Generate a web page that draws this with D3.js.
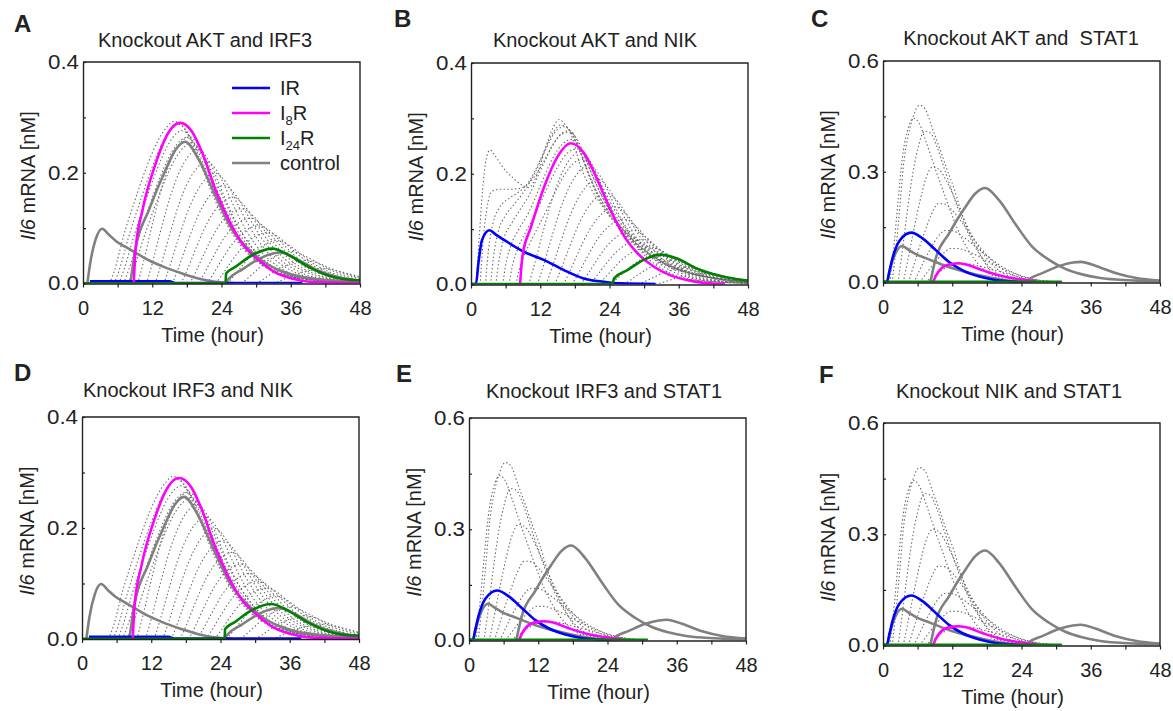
<!DOCTYPE html>
<html>
<head>
<meta charset="utf-8">
<script src="https://cdn.jsdelivr.net/npm/d3@7"></script>
<style>
body { margin: 0; background: #fff; }
svg text { font-family: "Liberation Sans", Arial, sans-serif; fill: #222; }
.tick text { font-size: 20px; }
</style>
</head>
<body>
<script>
'use strict';

// ---- data: [time (hour), Il6 mRNA (nM)] ----

const xTicks = [0, 6, 12, 18, 24, 30, 36, 42, 48];
const xLabels = [0, 12, 24, 36, 48];
const yTicksLow = [0, 0.1, 0.2, 0.3, 0.4];
const yLabelsLow = [0, 0.2, 0.4];
const yTicksHigh = [0, 0.15, 0.3, 0.45, 0.6];
const yLabelsHigh = [0, 0.3, 0.6];

// solid gray control curves
const ctrlIR = [[0.75,0],[1.3,0.04],[2.2,0.08],[3.3,0.099],[4.5,0.088],[5.8,0.076],[7.4,0.066],[9.2,0.055],[11.4,0.042],[14,0.03],[17.2,0.018],[20,0.009],[22.9,0.003],[26,0.001]];
const ctrlI8R = [[8.2,0],[8.6,0.03],[9.1,0.063],[11.4,0.132],[14.3,0.205],[16,0.241],[17.7,0.256],[20.1,0.223],[23,0.157],[25.8,0.098],[28.7,0.062],[31.6,0.037],[34.5,0.022],[37.4,0.013],[40.4,0.008],[44,0.005],[48,0.003]];
const ctrlI24R = [[24.6,0],[25.2,0.008],[27.7,0.026],[30.6,0.045],[32.9,0.054],[34.3,0.056],[36.9,0.045],[40.4,0.025],[43.9,0.012],[48,0.005]];

// panels A and D
const irAD = [[1.2,0.004],[15,0.004],[16,0.001],[38,0.001]];
const i8rAD = [[8.8,0],[9.1,0.06],[10.3,0.132],[12.6,0.217],[14.9,0.274],[16.8,0.29],[18.9,0.274],[20.7,0.235],[23,0.168],[25.3,0.114],[27.6,0.072],[30.5,0.042],[33.3,0.02],[36.2,0.009],[39.6,0.003],[48,0.001]];
const i24rAD = [[0,0.0005],[24.7,0.0005],[24.8,0.018],[26.4,0.03],[29.3,0.051],[32.8,0.063],[35.7,0.051],[39.1,0.03],[42.6,0.014],[47.6,0.006],[48,0.006]];
const dotsAD = [
  [[4.6,0],[5.5,0.025],[7,0.085],[9,0.15],[11,0.21],[13,0.258],[14.5,0.282],[15.7,0.293],[17,0.287],[18.5,0.262],[20,0.225],[22,0.172],[24,0.125],[26,0.088],[28,0.06],[31,0.033],[35,0.015],[40,0.006],[48,0.002]],
  [[5.4,0],[6.3,0.025],[7.8,0.08],[9.8,0.145],[11.8,0.205],[13.8,0.255],[15.3,0.28],[16.3,0.288],[17.6,0.28],[19,0.255],[20.5,0.218],[22.5,0.166],[24.5,0.12],[26.5,0.084],[28.5,0.057],[31.5,0.031],[35.5,0.014],[41,0.005],[48,0.002]],
  [[6.2,0],[7.1,0.025],[8.6,0.078],[10.6,0.142],[12.6,0.2],[14.6,0.248],[16.1,0.27],[17.1,0.276],[18.3,0.268],[19.7,0.244],[21.2,0.208],[23.2,0.158],[25.2,0.114],[27.2,0.08],[29.2,0.054],[32.2,0.029],[36.2,0.013],[42,0.005],[48,0.002]],
  [[7,0],[7.9,0.024],[9.4,0.075],[11.4,0.137],[13.4,0.193],[15.4,0.238],[16.9,0.258],[17.9,0.264],[19.1,0.256],[20.5,0.233],[22,0.198],[24,0.15],[26,0.108],[28,0.076],[30,0.051],[33,0.027],[37,0.012],[43,0.004],[48,0.002]],
  [[7.8,0],[8.7,0.023],[10.2,0.072],[12.2,0.132],[14.2,0.186],[16.2,0.229],[17.7,0.248],[18.7,0.254],[19.9,0.246],[21.3,0.224],[22.8,0.19],[24.8,0.143],[26.8,0.103],[28.8,0.072],[30.8,0.048],[33.8,0.025],[37.8,0.011],[44,0.004],[48,0.002]],
  [[9.5,0],[10.5,0.04],[12,0.106],[14,0.186],[16,0.239],[18.5,0.265],[20.5,0.239],[22.5,0.186],[24.5,0.133],[27.5,0.074],[31.5,0.032],[36.5,0.011],[48,0.002]],
  [[11,0],[12,0.036],[13.5,0.097],[15.5,0.169],[17.5,0.218],[20,0.242],[22,0.218],[24,0.169],[26,0.121],[29,0.068],[33,0.029],[38,0.01],[48,0.002]],
  [[12.5,0],[13.5,0.033],[15,0.088],[17,0.154],[19,0.198],[21.5,0.22],[23.5,0.198],[25.5,0.154],[27.5,0.11],[30.5,0.062],[34.5,0.026],[39.5,0.009],[48,0.002]],
  [[14,0],[15,0.03],[16.5,0.08],[18.5,0.139],[20.5,0.179],[23,0.199],[25,0.179],[27,0.139],[29,0.1],[32,0.056],[36,0.024],[41,0.008],[48,0.003]],
  [[15.5,0],[16.5,0.027],[18,0.071],[20,0.124],[22,0.159],[24.5,0.177],[26.5,0.159],[28.5,0.124],[30.5,0.089],[33.5,0.05],[37.5,0.021],[42.5,0.007],[48,0.003]],
  [[17,0],[18,0.023],[19.5,0.062],[21.5,0.109],[23.5,0.14],[26,0.156],[28,0.14],[30,0.109],[32,0.078],[35,0.044],[39,0.019],[44,0.006],[48,0.003]],
  [[18.5,0],[19.5,0.02],[21,0.054],[23,0.095],[25,0.122],[27.5,0.135],[29.5,0.122],[31.5,0.095],[33.5,0.068],[36.5,0.038],[40.5,0.016],[45.5,0.005],[48,0.004]],
  [[20,0],[21,0.018],[22.5,0.047],[24.5,0.083],[26.5,0.106],[29,0.118],[31,0.106],[33,0.083],[35,0.059],[38,0.033],[42,0.014],[47,0.005],[48,0.005]],
  [[21.5,0],[22.5,0.016],[24,0.042],[26,0.073],[28,0.094],[30.5,0.104],[32.5,0.094],[34.5,0.073],[36.5,0.052],[39.5,0.029],[43.5,0.012],[48,0.005]],
  [[23,0],[24,0.014],[25.5,0.037],[27.5,0.064],[29.5,0.083],[32,0.092],[34,0.083],[36,0.064],[38,0.046],[41,0.026],[45,0.011],[48,0.006]],
  [[25,0],[26,0.012],[27.5,0.031],[29.5,0.055],[31.5,0.07],[33.5,0.078],[35.5,0.07],[37.5,0.055],[39.5,0.039],[42.5,0.022],[46.5,0.009],[48,0.007]],
  [[27.5,0],[28.5,0.009],[30,0.023],[32,0.041],[34,0.052],[36,0.058],[38,0.052],[40,0.041],[42,0.029],[45,0.016],[48,0.009]],
  [[30,0],[31,0.006],[32.5,0.017],[34.5,0.029],[36.5,0.038],[38.5,0.042],[40.5,0.038],[42.5,0.029],[44.5,0.021],[47.5,0.012],[48,0.011]],
  [[33,0],[34,0.004],[35.5,0.011],[37.5,0.019],[39.5,0.024],[41.5,0.027],[43.5,0.024],[45.5,0.019],[48,0.012]]
];

// panel B
const irB = [[0,0.001],[0.86,0.001],[1.3,0.04],[1.9,0.08],[3.2,0.098],[4.3,0.09],[5.8,0.08],[9.2,0.059],[12.7,0.044],[16.1,0.026],[19.5,0.011],[23,0.005],[26,0.002],[32,0.001]];
const i8rB = [[8.5,0],[8.9,0.05],[10.4,0.104],[12.7,0.177],[15,0.231],[17.3,0.255],[19.6,0.237],[21.9,0.189],[24.2,0.134],[26.6,0.086],[28.9,0.056],[31.7,0.032],[34.5,0.017],[37.4,0.008],[40.3,0.003],[44,0.001]];
const i24rB = [[0,0.001],[24.5,0.001],[24.8,0.011],[27.1,0.026],[30,0.045],[32.8,0.054],[35.7,0.047],[39.1,0.029],[42.6,0.017],[47.2,0.008],[48,0.007]];
const dotsB = [
  [[0.9,0],[1.4,0.08],[2,0.17],[2.6,0.225],[3.3,0.243],[4.2,0.232],[5.5,0.212],[7,0.195],[8.5,0.182],[10,0.175],[11.5,0.2],[13,0.25],[14.3,0.285],[15.3,0.298],[16.2,0.29],[17.3,0.272],[19,0.213],[20.7,0.175],[23,0.138],[25.9,0.104],[28.8,0.08],[31.7,0.062],[34.5,0.044],[37.4,0.029],[40.3,0.02],[43.2,0.014],[48,0.008]],
  [[1.6,0],[2.1,0.08],[2.8,0.14],[3.6,0.168],[5,0.172],[6.5,0.172],[8,0.173],[9.5,0.178],[11,0.195],[12.5,0.22],[14.5,0.258],[16,0.275],[17.1,0.278],[18.3,0.262],[20,0.21],[22,0.158],[25,0.11],[28,0.075],[31,0.05],[35,0.029],[40,0.016],[48,0.007]],
  [[2.5,0],[3,0.06],[3.8,0.11],[5,0.14],[6.5,0.155],[8,0.165],[10,0.185],[12,0.225],[14,0.27],[15.5,0.288],[17,0.28],[18.5,0.25],[20.5,0.195],[23,0.145],[26,0.102],[29,0.07],[32,0.047],[36,0.027],[41,0.014],[48,0.006]],
  [[3.4,0],[3.9,0.05],[4.7,0.095],[6,0.125],[7.5,0.145],[9,0.165],[11,0.2],[13,0.245],[14.8,0.278],[16.2,0.285],[17.6,0.27],[19.2,0.232],[21,0.185],[23.5,0.135],[26.5,0.094],[29.5,0.064],[33,0.04],[37,0.023],[42,0.012],[48,0.005]],
  [[4.3,0],[4.8,0.04],[5.6,0.08],[7,0.11],[8.5,0.135],[10,0.16],[12,0.205],[14,0.248],[15.8,0.272],[17.2,0.275],[18.6,0.258],[20.2,0.218],[22,0.174],[24.5,0.126],[27.5,0.087],[30.5,0.059],[34,0.036],[38,0.02],[43,0.01],[48,0.005]],
  [[5.5,0],[6,0.035],[6.9,0.07],[8.3,0.1],[10,0.13],[12,0.178],[14,0.225],[16,0.255],[17.5,0.262],[19,0.245],[20.7,0.205],[22.5,0.163],[25,0.118],[28,0.081],[31,0.055],[34.5,0.034],[38.5,0.019],[43.5,0.009],[48,0.005]],
  [[6.6,0],[7.1,0.03],[8,0.062],[9.5,0.095],[11.2,0.128],[13,0.17],[15,0.212],[17,0.24],[18.5,0.245],[20,0.228],[21.7,0.192],[23.5,0.153],[26,0.11],[29,0.076],[32,0.051],[35.5,0.031],[39.5,0.017],[44.5,0.008],[48,0.005]],
  [[7.8,0],[8.3,0.025],[9.2,0.052],[10.7,0.085],[12.4,0.12],[14.2,0.158],[16.2,0.198],[18.2,0.222],[19.6,0.226],[21,0.21],[22.7,0.178],[24.5,0.142],[27,0.102],[30,0.07],[33,0.047],[36.5,0.028],[40.5,0.015],[45,0.008],[48,0.005]],
  [[10,0],[11,0.036],[12.5,0.096],[14.5,0.168],[16.5,0.216],[19,0.24],[21,0.216],[23,0.168],[25,0.12],[28,0.067],[32,0.029],[37,0.01],[48,0.002]],
  [[11.5,0],[12.5,0.032],[14,0.086],[16,0.151],[18,0.194],[20.5,0.215],[22.5,0.194],[24.5,0.151],[26.5,0.108],[29.5,0.06],[33.5,0.026],[38.5,0.009],[48,0.002]],
  [[13,0],[14,0.029],[15.5,0.076],[17.5,0.133],[19.5,0.171],[22,0.19],[24,0.171],[26,0.133],[28,0.095],[31,0.053],[35,0.023],[40,0.008],[48,0.002]],
  [[14.5,0],[15.5,0.025],[17,0.066],[19,0.116],[21,0.149],[23.5,0.165],[25.5,0.149],[27.5,0.116],[29.5,0.083],[32.5,0.046],[36.5,0.02],[41.5,0.007],[48,0.003]],
  [[16,0],[17,0.021],[18.5,0.056],[20.5,0.098],[22.5,0.126],[25,0.14],[27,0.126],[29,0.098],[31,0.07],[34,0.039],[38,0.017],[43,0.006],[48,0.003]],
  [[17.5,0],[18.5,0.018],[20,0.047],[22,0.083],[24,0.106],[26.5,0.118],[28.5,0.106],[30.5,0.083],[32.5,0.059],[35.5,0.033],[39.5,0.014],[44.5,0.005],[48,0.003]],
  [[19,0],[20,0.015],[21.5,0.039],[23.5,0.069],[25.5,0.088],[28,0.098],[30,0.088],[32,0.069],[34,0.049],[37,0.027],[41,0.012],[46,0.004],[48,0.004]],
  [[20.5,0],[21.5,0.012],[23,0.032],[25,0.057],[27,0.073],[29.5,0.081],[31.5,0.073],[33.5,0.057],[35.5,0.041],[38.5,0.023],[42.5,0.01],[47.5,0.004],[48,0.004]],
  [[22,0],[23,0.01],[24.5,0.027],[26.5,0.048],[28.5,0.061],[31,0.068],[33,0.061],[35,0.048],[37,0.034],[40,0.019],[44,0.008],[48,0.004]],
  [[24,0],[25,0.008],[26.5,0.022],[28.5,0.039],[30.5,0.05],[32.5,0.056],[34.5,0.05],[36.5,0.039],[38.5,0.028],[41.5,0.016],[45.5,0.007],[48,0.004]],
  [[26.5,0],[27.5,0.007],[29,0.018],[31,0.031],[33,0.04],[35,0.044],[37,0.04],[39,0.031],[41,0.022],[44,0.012],[48,0.006]],
  [[29,0],[30,0.005],[31.5,0.012],[33.5,0.022],[35.5,0.028],[37.5,0.031],[39.5,0.028],[41.5,0.022],[43.5,0.016],[46.5,0.009],[48,0.008]],
  [[32,0],[33,0.003],[34.5,0.008],[36.5,0.014],[38.5,0.018],[40.5,0.02],[42.5,0.018],[44.5,0.014],[46.5,0.01],[48,0.008]]
];

// panels C, E and F
const irCEF = [[0,0.002],[0.67,0.002],[1.1,0.03],[1.7,0.069],[2.9,0.114],[4.9,0.135],[6.9,0.119],[9.2,0.087],[11.5,0.055],[13.8,0.033],[16.7,0.016],[19,0.008],[21.9,0.003],[24,0.001]];
const i8rCEF = [[8.65,0],[9.2,0.019],[10.4,0.042],[12.1,0.051],[13,0.052],[14.4,0.049],[17.3,0.033],[20.2,0.019],[23.1,0.01],[26.5,0.004]];
const i24rCEF = [[0,0.002],[31,0.002]];
const dotsCEF = [
  [[1.6,0],[2.3,0.1],[3,0.22],[3.5,0.31],[4.4,0.4],[5.2,0.448],[6.3,0.48],[7.3,0.47],[8.5,0.42],[9.9,0.36],[11,0.31],[12.2,0.26],[13.4,0.2],[14.5,0.15],[15.7,0.11],[16.8,0.078],[18,0.045],[19.1,0.024],[21,0.01],[24,0.003]],
  [[1.2,0],[1.9,0.1],[2.6,0.22],[3.3,0.33],[4.2,0.41],[5.4,0.445],[6.3,0.43],[7.5,0.38],[9,0.31],[10.5,0.245],[12,0.18],[13.5,0.125],[15,0.082],[16.5,0.05],[18,0.028],[20,0.012],[23,0.004]],
  [[2.6,0],[3.3,0.08],[4.1,0.18],[5,0.28],[6,0.36],[7.2,0.41],[8.2,0.405],[9.3,0.37],[10.6,0.31],[12,0.245],[13.5,0.18],[15,0.125],[16.5,0.082],[18,0.05],[19.5,0.028],[21.5,0.012],[24,0.004]],
  [[3.5,0],[4.3,0.06],[5.3,0.14],[6.4,0.22],[7.4,0.28],[8.6,0.313],[9.8,0.305],[11,0.275],[12.5,0.225],[14,0.172],[15.5,0.125],[17,0.086],[18.5,0.056],[20,0.034],[22,0.016],[25,0.005]],
  [[4.4,0],[5.2,0.04],[6.2,0.09],[7.3,0.14],[8.4,0.185],[9.6,0.214],[10.8,0.212],[12.2,0.192],[13.8,0.16],[15.4,0.125],[17,0.092],[18.6,0.064],[20.2,0.042],[22,0.024],[24.5,0.01],[27,0.004]],
  [[5.3,0],[6.1,0.025],[7.1,0.058],[8.3,0.093],[9.5,0.124],[10.8,0.141],[12,0.14],[13.5,0.128],[15.2,0.108],[17,0.085],[18.8,0.063],[20.6,0.043],[22.4,0.028],[24.4,0.015],[27,0.006]],
  [[6.3,0],[7.1,0.016],[8.1,0.037],[9.3,0.06],[10.5,0.08],[11.7,0.092],[13,0.092],[14.6,0.085],[16.4,0.072],[18.2,0.057],[20,0.043],[22,0.029],[24,0.018],[26.5,0.008],[29,0.003]],
  [[7.3,0],[8.1,0.01],[9.2,0.022],[10.4,0.035],[11.7,0.045],[13,0.05],[14.5,0.05],[16.3,0.046],[18.3,0.038],[20.3,0.03],[22.3,0.021],[24.3,0.013],[27,0.006],[30,0.002]]
];

// panel table built from the arrays above
const panels = [
  { letter: 'A', title: 'Knockout AKT and IRF3', hi: false, dots: dotsAD, controls: true, ir: irAD, i8r: i8rAD, i24r: i24rAD, legend: true },
  { letter: 'B', title: 'Knockout AKT and NIK', hi: false, dots: dotsB, controls: false, ir: irB, i8r: i8rB, i24r: i24rB },
  { letter: 'C', title: 'Knockout AKT and  STAT1', hi: true, dots: dotsCEF, controls: true, ir: irCEF, i8r: i8rCEF, i24r: i24rCEF },
  { letter: 'D', title: 'Knockout IRF3 and NIK', hi: false, dots: dotsAD, controls: true, ir: irAD, i8r: i8rAD, i24r: i24rAD },
  { letter: 'E', title: 'Knockout IRF3 and STAT1', hi: true, dots: dotsCEF, controls: true, ir: irCEF, i8r: i8rCEF, i24r: i24rCEF },
  { letter: 'F', title: 'Knockout NIK and STAT1', hi: true, dots: dotsCEF, controls: true, ir: irCEF, i8r: i8rCEF, i24r: i24rCEF }
];

// ---- layout ----
const boxes = {
  A: { l: 83, r: 360, t: 62, b: 283.5, tx: 205, ty: 47, lx: 14, ly: 32 },
  B: { l: 471, r: 748, t: 63, b: 284.5, tx: 595, ty: 47, lx: 394, ly: 27 },
  C: { l: 883, r: 1160, t: 61, b: 282.5, tx: 1021, ty: 45, lx: 811, ly: 27 },
  D: { l: 82, r: 359, t: 417, b: 639, tx: 188, ty: 397, lx: 14, ly: 381 },
  E: { l: 469, r: 746, t: 418, b: 640.5, tx: 604, ty: 398, lx: 396, ly: 382 },
  F: { l: 883, r: 1160, t: 423, b: 645.5, tx: 1009, ty: 398, lx: 819, ly: 383 }
};

const colors = { ir: '#0000ff', i8r: '#ff00ff', i24r: '#008000', control: '#808080', dots: '#666' };

const svg = d3.select('body').append('svg')
    .attr('width', 1173)
    .attr('height', 711);

panels.forEach(function (p) {
  const box = boxes[p.letter];
  const yMax = p.hi ? 0.6 : 0.4;
  const yTicks = p.hi ? yTicksHigh : yTicksLow;
  const yLabels = p.hi ? yLabelsHigh : yLabelsLow;

  const x = d3.scaleLinear().domain([0, 48]).range([box.l, box.r]);
  const y = d3.scaleLinear().domain([0, yMax]).range([box.b, box.t]);
  const line = d3.line()
      .x(function (d) { return x(d[0]); })
      .y(function (d) { return y(d[1]); })
      .curve(d3.curveMonotoneX);

  const g = svg.append('g');

  svg.append('clipPath').attr('id', 'clip' + p.letter)
    .append('rect')
      .attr('x', box.l).attr('y', box.t)
      .attr('width', box.r - box.l).attr('height', box.b - box.t);

  const plot = g.append('g').attr('clip-path', 'url(#clip' + p.letter + ')');

  // dotted family
  plot.selectAll('path.dots').data(p.dots).enter().append('path')
      .attr('class', 'dots')
      .attr('d', line)
      .attr('fill', 'none')
      .attr('stroke', colors.dots)
      .attr('stroke-width', 1.1)
      .attr('stroke-dasharray', '1.4 2.4');

  if (p.controls) {
    plot.selectAll('path.ctrl').data([ctrlIR, ctrlI8R, ctrlI24R]).enter().append('path')
        .attr('class', 'ctrl')
        .attr('d', line)
        .attr('fill', 'none')
        .attr('stroke', colors.control)
        .attr('stroke-width', 2.6);
  }

  [[p.ir, colors.ir], [p.i8r, colors.i8r], [p.i24r, colors.i24r]].forEach(function (s) {
    plot.append('path')
        .attr('d', line(s[0]))
        .attr('fill', 'none')
        .attr('stroke', s[1])
        .attr('stroke-width', 2.6);
  });

  // axes
  const xAxis = d3.axisBottom(x)
      .tickValues(xTicks)
      .tickFormat(function (d) { return xLabels.indexOf(d) >= 0 ? d : ''; })
      .tickSizeInner(4).tickSizeOuter(0).tickPadding(13);
  const gx = g.append('g')
      .attr('transform', 'translate(0,' + box.b + ')')
      .call(xAxis);

  const yAxis = d3.axisLeft(y)
      .tickValues(yTicks)
      .tickFormat(function (d) { return yLabels.indexOf(d) >= 0 ? d3.format('.1f')(d) : ''; })
      .tickSizeInner(-3).tickSizeOuter(0).tickPadding(4);
  const gy = g.append('g')
      .attr('transform', 'translate(' + box.l + ',0)')
      .call(yAxis);

  // y labels are drawn wider in the figure
  gy.selectAll('.tick text')
      .filter(function () { return this.textContent !== ''; })
      .attr('textLength', 31)
      .attr('lengthAdjust', 'spacingAndGlyphs');

  [gx, gy].forEach(function (a) {
    a.select('.domain').attr('stroke', '#222').attr('stroke-width', 1.4);
    a.selectAll('.tick line').attr('stroke', '#222').attr('stroke-width', 1.2);
    a.selectAll('.tick text').attr('fill', '#222');
  });

  g.append('path')
      .attr('d', 'M' + box.l + ',' + box.t + 'H' + box.r + 'V' + box.b)
      .attr('fill', 'none')
      .attr('stroke', '#222')
      .attr('stroke-width', 1.4);

  // texts
  g.append('text')
      .attr('x', box.lx).attr('y', box.ly)
      .attr('font-size', 24).attr('font-weight', 'bold')
      .text(p.letter);

  g.append('text')
      .attr('x', box.tx).attr('y', box.ty)
      .attr('text-anchor', 'middle')
      .attr('font-size', 20)
      .style('white-space', 'pre')
      .text(p.title);

  g.append('text')
      .attr('x', (box.l + box.r) / 2 - 9).attr('y', box.b + 58)
      .attr('text-anchor', 'middle')
      .attr('font-size', 20)
      .text('Time (hour)');

  const yl = g.append('text')
      .attr('transform', 'translate(' + (box.l - 48) + ',' + ((box.t + box.b) / 2 + 3) + ') rotate(-90)')
      .attr('text-anchor', 'middle')
      .attr('font-size', 20)
      .style('white-space', 'pre');
  yl.append('tspan').attr('font-style', 'italic').text('Il6');
  yl.append('tspan').text(' mRNA [nM]');

  if (p.legend) {
    const items = [
      { key: 'ir', main: 'IR' },
      { key: 'i8r', main: 'I', sub: '8', tail: 'R' },
      { key: 'i24r', main: 'I', sub: '24', tail: 'R' },
      { key: 'control', main: 'control' }
    ];
    const leg = g.append('g');
    items.forEach(function (it, i) {
      const ly = 88 + i * 25;
      leg.append('line')
          .attr('x1', 232).attr('x2', 270)
          .attr('y1', ly).attr('y2', ly)
          .attr('stroke', colors[it.key])
          .attr('stroke-width', 2.6);
      const t = leg.append('text')
          .attr('x', 280).attr('y', ly + 7)
          .attr('font-size', 20);
      t.append('tspan').text(it.main);
      if (it.sub) {
        t.append('tspan').attr('font-size', 13).attr('dy', 5).text(it.sub);
        t.append('tspan').attr('dy', -5).text(it.tail);
      }
    });
  }
});
</script>
</body>
</html>
